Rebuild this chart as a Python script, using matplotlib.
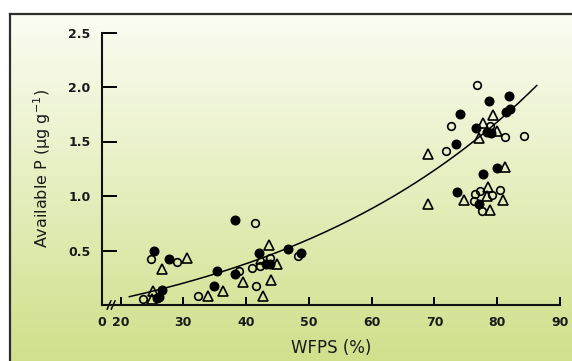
import numpy as np
import matplotlib
matplotlib.use("Agg")
import matplotlib.pyplot as plt

# readings from the figure: WFPS (%) vs available P (ug/g)
filled_x = [25.3, 27.7, 35.3, 34.9, 26.6, 26.2, 25.8, 38.3, 42.0, 46.7, 48.8, 43.2,
            43.8, 38.2, 81.9, 78.7, 74.0, 82.0, 81.4, 76.6, 78.3, 79.0, 73.4, 80.0,
            77.8, 73.6, 77.1]
filled_y = [0.50, 0.42, 0.31, 0.17, 0.14, 0.07, 0.06, 0.78, 0.48, 0.51, 0.48, 0.38,
            0.38, 0.28, 1.92, 1.87, 1.755, 1.80, 1.77, 1.62, 1.59, 1.58, 1.48, 1.26,
            1.20, 1.04, 0.93]

open_x = [24.9, 29.0, 32.4, 23.6, 41.4, 48.3, 43.8, 42.2, 40.9, 38.9, 41.5, 76.7,
          72.7, 78.9, 81.2, 84.2, 71.9, 80.4, 77.3, 76.5, 79.1, 76.3, 77.5]
open_y = [0.42, 0.39, 0.08, 0.055, 0.755, 0.45, 0.43, 0.36, 0.34, 0.31, 0.17, 2.02,
          1.64, 1.64, 1.54, 1.55, 1.41, 1.055, 1.05, 1.015, 1.01, 0.95, 0.865]

tri_x = [30.6, 26.6, 36.3, 34.0, 25.1, 25.0, 43.7, 42.4, 44.9, 39.5, 43.9, 42.7,
         79.3, 77.7, 80.0, 77.1, 68.9, 81.2, 78.6, 78.3, 74.7, 81.0, 68.9, 78.8]
tri_y = [0.43, 0.33, 0.13, 0.08, 0.13, 0.055, 0.55, 0.42, 0.38, 0.21, 0.23, 0.08,
         1.74, 1.67, 1.60, 1.53, 1.385, 1.27, 1.08, 1.00, 0.96, 0.96, 0.93, 0.87]

# fitted curve y = a*exp(b*x) + c, drawn over the range shown
fit_a, fit_b, fit_c = 0.3545, 0.0227, -0.5
fit_range = (21.4, 86.3)

xtick_vals = [17, 20, 30, 40, 50, 60, 70, 80, 90]
xtick_labels = ["0", "20", "30", "40", "50", "60", "70", "80", "90"]
ytick_vals = [0.5, 1.0, 1.5, 2.0, 2.5]
ytick_labels = ["0.5", "1.0", "1.5", "2.0", "2.5"]

W, H = 572, 361
fig = plt.figure(figsize=(W / 100, H / 100), dpi=100)
fig.patch.set_facecolor("white")

# gradient panel with dark frame
bg = fig.add_axes([10 / W, 0, 1, 1 - 13.5 / H])
grad = np.linspace(0, 1, 256)[:, None]
top = np.array([0.985, 0.992, 0.955])
bot = np.array([0.815, 0.878, 0.545])
img = top[None, None, :] * (1 - grad[..., None]) + bot[None, None, :] * grad[..., None]
bg.imshow(img, aspect="auto", extent=[0, 1, 0, 1])
bg.set_xticks([])
bg.set_yticks([])
for s in ["right", "bottom"]:
    bg.spines[s].set_visible(False)
for s in ["top", "left"]:
    bg.spines[s].set_color("#2e2e2e")
    bg.spines[s].set_linewidth(1.6)
bg.set_zorder(0)

ax = fig.add_axes([101.7 / W, 1 - 305 / H, (560 - 101.7) / W, (305 - 32.5) / H])
ax.set_zorder(1)
ax.patch.set_visible(False)

ax.plot(filled_x, filled_y, "o", ms=6.2, mfc="black", mec="black", mew=1.0, clip_on=False)
ax.plot(open_x, open_y, "o", ms=5.5, mfc="none", mec="black", mew=1.2, clip_on=False)
ax.plot(tri_x, tri_y, "^", ms=6.5, mfc="none", mec="black", mew=1.2, clip_on=False)

xx = np.linspace(fit_range[0], fit_range[1], 200)
ax.plot(xx, fit_a * np.exp(fit_b * xx) + fit_c, color="black", lw=1.1)

ax.set_xlim(17, 90)
ax.set_ylim(0, 2.5)
for s in ["top", "right"]:
    ax.spines[s].set_visible(False)
for s in ["left", "bottom"]:
    ax.spines[s].set_linewidth(1.5)
    ax.spines[s].set_color("#111111")

ax.set_xticks(xtick_vals)
ax.set_xticklabels(xtick_labels)
ax.set_yticks(ytick_vals)
ax.set_yticklabels(ytick_labels)
ax.tick_params(axis="x", direction="in", length=6, width=1.4, pad=8)
ax.tick_params(axis="y", direction="in", length=11, width=1.4, pad=8)
ax.xaxis.get_major_ticks()[0].tick1line.set_visible(False)
for lab in ax.get_xticklabels() + ax.get_yticklabels():
    lab.set_fontweight("bold")
    lab.set_fontsize(9)
    lab.set_color("#1a1a1a")

# axis break marks
for bx in [0.016, 0.025]:
    ax.plot([bx - 0.004, bx + 0.004], [-0.015, 0.015], transform=ax.transAxes,
            color="black", lw=1.1, clip_on=False)

ax.set_xlabel("WFPS (%)", fontsize=12, labelpad=7, color="#1a1a1a")
ax.set_ylabel("Available P (μg g$^{-1}$)", fontsize=11.5, labelpad=11, color="#1a1a1a")

fig.savefig("out.png", dpi=100)
